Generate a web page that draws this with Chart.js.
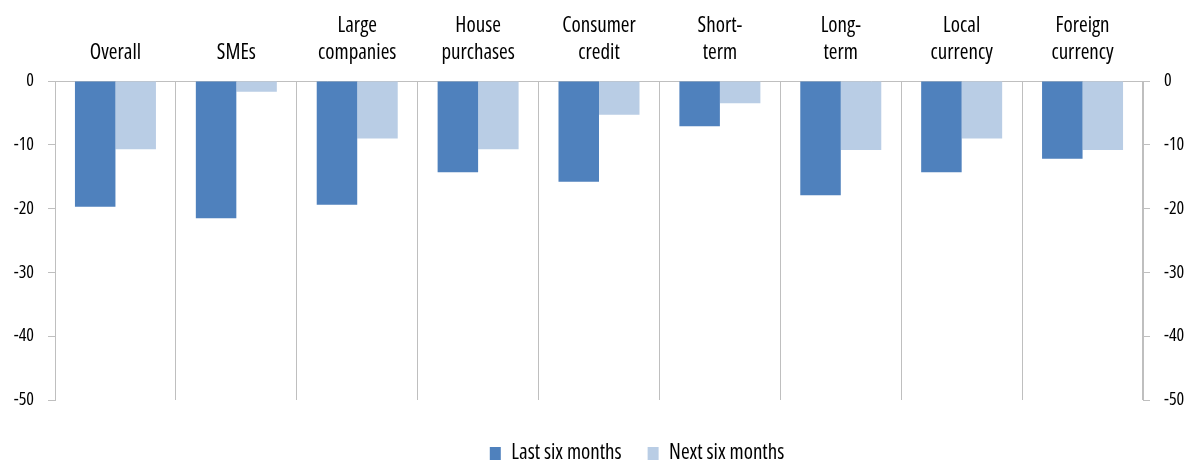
<!DOCTYPE html>
<html>
<head>
<meta charset="utf-8">
<script src="https://cdn.jsdelivr.net/npm/chart.js@4.4.1/dist/chart.umd.min.js"></script>
<style>
  html, body { margin: 0; padding: 0; background: #fff; }
  #wrap { width: 1202px; height: 463px; }
</style>
</head>
<body>
<div id="wrap"><canvas id="chart"></canvas></div>
<script>
const categories = [
  "Overall", "SMEs", ["Large", "companies"], ["House", "purchases"],
  ["Consumer", "credit"], ["Short-", "term"], ["Long-", "term"],
  ["Local", "currency"], ["Foreign", "currency"]
];
const lastSixMonths = [-19.7, -21.5, -19.4, -14.3, -15.8, -7.1, -17.9, -14.3, -12.2];
const nextSixMonths = [-10.7, -1.7, -9.0, -10.7, -5.3, -3.5, -10.8, -9.0, -10.8];
const yMin = -50;
const yMax = 0;
const yStep = 10;

const gridColor = "#bfbfbf";

// Open Sans has a width axis, "condensed" gets close to the original narrow face
Chart.defaults.font.family = "'Open Sans', sans-serif";
Chart.defaults.font.weight = "condensed";
Chart.defaults.color = "#000";

const yAxis = (position, width) => ({
  type: "linear",
  position,
  min: yMin,
  max: yMax,
  ticks: { stepSize: yStep, padding: 14, font: { size: 18 }, color: "#000" },
  grid: { drawOnChartArea: false, tickLength: 7, color: gridColor },
  border: { color: gridColor },
  afterFit: (scale) => { scale.width = width; }
});

// legend in the original sits a bit right of centre
const legendShift = {
  id: "legendShift",
  afterLayout(chart) {
    chart.legend.left += 36;
    chart.legend.right += 36;
  }
};

new Chart(document.getElementById("chart"), {
  type: "bar",
  data: {
    labels: categories,
    datasets: [
      {
        label: "Last six months",
        data: lastSixMonths,
        backgroundColor: "#4f81bd"
      },
      {
        label: "Next six months",
        data: nextSixMonths,
        backgroundColor: "#b9cde5"
      }
    ]
  },
  options: {
    responsive: true,
    maintainAspectRatio: false,
    animation: false,
    categoryPercentage: 0.67,
    barPercentage: 1,
    layout: { padding: { top: 0, bottom: -11, left: 0, right: 0 } },
    scales: {
      x: {
        position: "top",
        grid: { offset: true, drawTicks: false, color: gridColor },
        border: { color: gridColor },
        ticks: {
          padding: 14,
          maxRotation: 0,
          autoSkip: false,
          font: { size: 21, lineHeight: 1.3 },
          color: "#000"
        },
        afterFit: (scale) => { scale.height = 81; }
      },
      xPad: {
        type: "category",
        position: "bottom",
        grid: { display: false },
        border: { display: false },
        ticks: { display: false },
        afterFit: (scale) => { scale.height = 17; }
      },
      y: yAxis("left", 55),
      y2: yAxis("right", 59)
    },
    plugins: {
      legend: {
        position: "bottom",
        labels: {
          boxWidth: 11,
          boxHeight: 13,
          padding: 26,
          font: { size: 21 },
          color: "#000"
        }
      },
      tooltip: { enabled: false }
    }
  },
  plugins: [legendShift]
});
</script>
</body>
</html>
